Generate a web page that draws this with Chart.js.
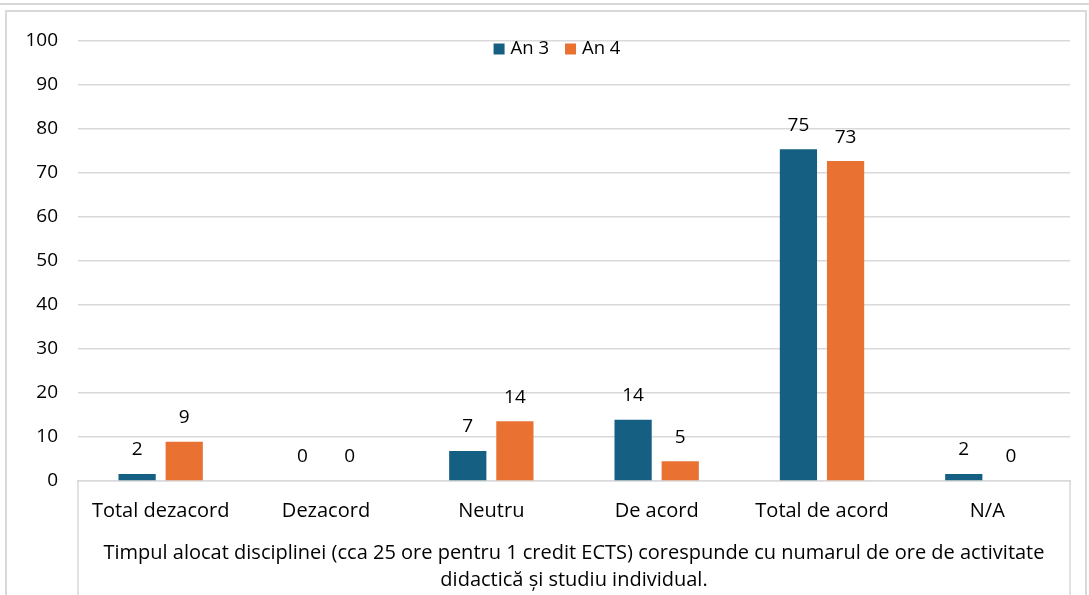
<!DOCTYPE html>
<html>
<head>
<meta charset="utf-8">
<script src="https://cdn.jsdelivr.net/npm/chart.js@4.4.1/dist/chart.umd.min.js"></script>
<style>
  body { margin: 0; background: #fff; }
  #topline { position: absolute; left: 0; top: 3px; width: 1089px; height: 2px; background: #d9d9d9; }
  #frame { position: absolute; left: 5px; top: 10px; width: 1078px; height: 600px; border: 2px solid #d9d9d9; border-bottom: none; }
  #wrap { position: absolute; left: 0; top: 0; width: 1089px; height: 595px; }
</style>
</head>
<body>
<div id="topline"></div>
<div id="frame"></div>
<div id="wrap"><canvas id="barChart" width="1089" height="595"></canvas></div>
<script>
var categories = ['Total dezacord', 'Dezacord', 'Neutru', 'De acord', 'Total de acord', 'N/A']
var an3Values = [1.6, 0, 6.8, 13.9, 75.4, 1.6]
var an4Values = [8.9, 0, 13.6, 4.5, 72.7, 0]
var seriesNames = ['An 3', 'An 4']
var seriesColors = ['#156082', '#E97132']
var yTicks = [0, 10, 20, 30, 40, 50, 60, 70, 80, 90, 100]
var axisTitle = [
  'Timpul alocat disciplinei (cca 25 ore pentru 1 credit ECTS) corespunde cu numarul de ore de activitate',
  'didactică și studiu individual.'
]

var fontFamily = '"Open Sans", "Liberation Sans", Arial, sans-serif'
var textColor = '#000000'
var gridColor = '#d9d9d9'

// value labels above each bar
var valueLabels = {
  id: 'valueLabels',
  afterDatasetsDraw: function (chart) {
    var ctx = chart.ctx
    ctx.save()
    ctx.font = '19px ' + fontFamily
    ctx.fillStyle = textColor
    ctx.textAlign = 'center'
    ctx.textBaseline = 'middle'
    chart.data.datasets.forEach(function (ds, i) {
      chart.getDatasetMeta(i).data.forEach(function (bar, j) {
        ctx.fillText(Math.round(ds.data[j]), bar.x, bar.y - 24)
      })
    })
    ctx.restore()
  }
}

// legend drawn inside the plot, under the top gridline
var innerLegend = {
  id: 'innerLegend',
  afterDraw: function (chart) {
    var ctx = chart.ctx
    ctx.save()
    ctx.font = '18.5px ' + fontFamily
    ctx.textBaseline = 'middle'
    var box = 11, gapText = 6, gapItem = 16
    var items = chart.data.datasets.map(function (ds) {
      return { label: ds.label, color: ds.backgroundColor, w: box + gapText + ctx.measureText(ds.label).width }
    })
    var total = items.reduce(function (s, it) { return s + it.w }, 0) + gapItem * (items.length - 1)
    var x = 557 - total / 2
    var y = chart.chartArea.top + 8
    items.forEach(function (it) {
      ctx.fillStyle = it.color
      ctx.fillRect(x, y - box / 2, box, box)
      ctx.fillStyle = textColor
      ctx.fillText(it.label, x + box + gapText, y)
      x += it.w + gapItem
    })
    ctx.restore()
  }
}

// box lines around the category axis area
var axisBox = {
  id: 'axisBox',
  beforeDatasetsDraw: function (chart) {
    var a = chart.chartArea, ctx = chart.ctx
    ctx.save()
    ctx.strokeStyle = gridColor
    ctx.lineWidth = 1.5
    ctx.beginPath()
    ctx.moveTo(a.left, a.bottom); ctx.lineTo(a.left, chart.height)
    ctx.moveTo(a.right, a.bottom); ctx.lineTo(a.right, chart.height)
    ctx.stroke()
    ctx.restore()
  }
}

var barChartCanvas = document.getElementById('barChart').getContext('2d')
var barChart = new Chart(barChartCanvas, {
  type: 'bar',
  data: {
    labels: categories,
    datasets: [
      { label: seriesNames[0], data: an3Values, backgroundColor: seriesColors[0] },
      { label: seriesNames[1], data: an4Values, backgroundColor: seriesColors[1] }
    ]
  },
  options: {
    responsive: false,
    animation: false,
    categoryPercentage: 0.57,
    barPercentage: 0.79,
    layout: { padding: { top: 41, right: 19, left: 0, bottom: 0 } },
    plugins: {
      legend: { display: false },
      tooltip: { enabled: false }
    },
    scales: {
      y: {
        min: 0,
        max: 100,
        afterBuildTicks: function (s) { s.ticks = yTicks.map(function (v) { return { value: v } }) },
        afterFit: function (s) { s.width = 78 },
        border: { display: false },
        grid: { color: gridColor, lineWidth: 1.5, drawTicks: false },
        ticks: { padding: 20, color: textColor, font: { family: fontFamily, size: 19 } }
      },
      x: {
        afterFit: function (s) { s.height = 114 },
        border: { display: true, color: gridColor, width: 1.5 },
        grid: { display: false },
        ticks: { padding: 10, color: textColor, maxRotation: 0, font: { family: fontFamily, size: 20 } },
        title: {
          display: true,
          text: axisTitle,
          color: textColor,
          padding: { top: 0, bottom: 1 },
          font: { family: fontFamily, size: 20, lineHeight: 1.35 }
        }
      }
    }
  },
  plugins: [valueLabels, innerLegend, axisBox]
})
</script>
</body>
</html>
